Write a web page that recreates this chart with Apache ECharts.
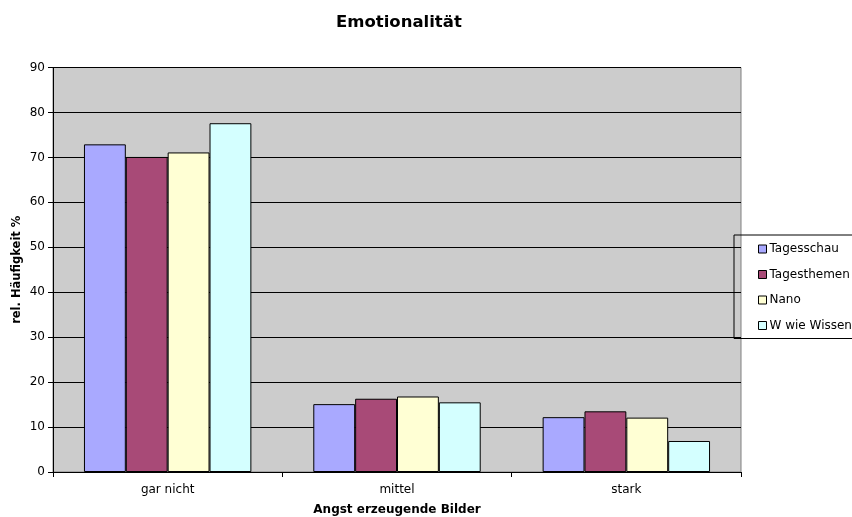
<!DOCTYPE html>
<html>
<head>
<meta charset="utf-8">
<script src="https://cdn.jsdelivr.net/npm/echarts@6/dist/echarts.min.js"></script>
<style>
html,body{margin:0;padding:0;background:#fff;}
#chart{width:852px;height:517px;}
</style>
</head>
<body>
<div id="chart"></div>
<script>
var categories = ['gar nicht', 'mittel', 'stark'];
var seriesNames = ['Tagesschau', 'Tagesthemen', 'Nano', 'W wie Wissen'];
var tagesschau = [72.9, 15.1, 12.2];
var tagesthemen = [70.1, 16.3, 13.5];
var nano = [71.1, 16.8, 12.1];
var wWieWissen = [77.6, 15.5, 6.9];
var colors = ['#A9A9FF', '#A84A77', '#FFFFD4', '#D4FFFF'];

var font = 'DejaVu Sans, Verdana, sans-serif';
var allData = [tagesschau, tagesthemen, nano, wWieWissen];

var series = [];
for (var i = 0; i < seriesNames.length; i++) {
    series.push({
        name: seriesNames[i],
        type: 'bar',
        data: allData[i],
        barGap: '0%',
        barCategoryGap: '27%',
        itemStyle: {color: colors[i], borderColor: '#000', borderWidth: 1}
    });
}

var myChart = echarts.init(document.getElementById('chart'));
var option = {
    animation: false,
    backgroundColor: '#fff',
    title: {
        text: 'Emotionalität',
        left: 331,
        top: 9,
        textStyle: {fontFamily: font, fontSize: 16.5, fontWeight: 'bold', color: '#000'}
    },
    legend: {
        data: seriesNames,
        orient: 'vertical',
        left: 734,
        top: 235,
        padding: [8, 40, 7, 24],
        itemGap: 13.5,
        itemWidth: 8,
        itemHeight: 8,
        icon: 'rect',
        itemStyle: {borderWidth: 1, borderColor: '#000'},
        borderColor: '#000',
        borderWidth: 1,
        textStyle: {fontFamily: font, fontSize: 12, color: '#000', padding: [0, 0, 0, -2]}
    },
    grid: {
        left: 53,
        right: 111,
        top: 67.5,
        bottom: 45,
        outerBoundsMode: 'none',
        containLabel: false,
        show: true,
        backgroundColor: '#CCCCCC',
        borderColor: '#808080',
        borderWidth: 1
    },
    xAxis: {
        type: 'category',
        data: categories,
        name: 'Angst erzeugende Bilder',
        nameLocation: 'middle',
        nameGap: 32,
        nameMoveOverlap: false,
        nameTextStyle: {fontFamily: font, fontSize: 12, fontWeight: 'bold', color: '#000'},
        axisLine: {lineStyle: {color: '#000'}},
        axisTick: {show: true, length: 5, lineStyle: {color: '#000'}},
        axisLabel: {fontFamily: font, fontSize: 12, color: '#000', margin: 12}
    },
    yAxis: {
        type: 'value',
        min: 0,
        max: 90,
        interval: 10,
        name: 'rel. Häufigkeit %',
        nameLocation: 'middle',
        nameGap: 30,
        nameMoveOverlap: false,
        nameTextStyle: {fontFamily: font, fontSize: 11.5, fontWeight: 'bold', color: '#000'},
        axisLine: {show: true, lineStyle: {color: '#000'}},
        axisTick: {show: true, length: 5, lineStyle: {color: '#000'}},
        axisLabel: {fontFamily: font, fontSize: 12, color: '#000', margin: 8},
        splitLine: {show: true, lineStyle: {color: '#000', width: 1}}
    },
    series: series
};
myChart.setOption(option);
</script>
</body>
</html>
